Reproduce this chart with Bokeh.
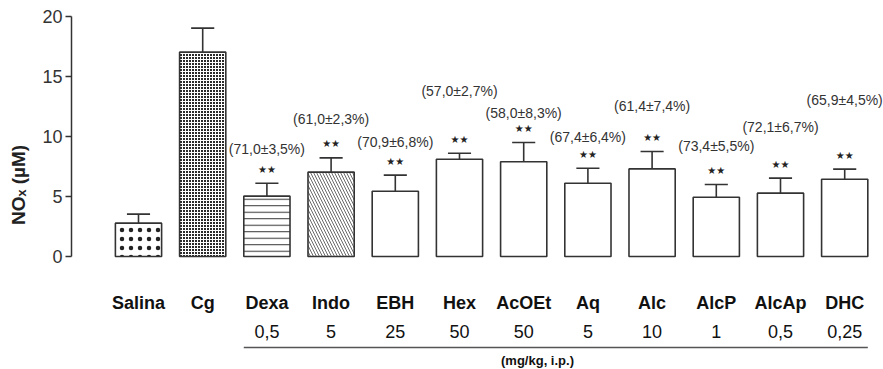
import numpy as np
from bokeh.plotting import figure
from bokeh.models import Range1d, ColumnDataSource, FixedTicker
from bokeh.core.properties import value
from bokeh.embed import file_html
from bokeh.resources import INLINE

# ---------------- data ----------------
groups = ["Salina", "Cg", "Dexa", "Indo", "EBH", "Hex", "AcOEt", "Aq", "Alc", "AlcP", "AlcAp", "DHC"]
doses = ["", "", "0,5", "5", "25", "50", "50", "5", "10", "1", "0,5", "0,25"]
nox_mean = [2.78, 17.03, 5.03, 7.03, 5.44, 8.11, 7.89, 6.11, 7.30, 4.94, 5.28, 6.44]
nox_sem = [0.75, 2.00, 1.08, 1.19, 1.34, 0.50, 1.61, 1.25, 1.45, 1.06, 1.25, 0.84]
inhibition = ["", "", "(71,0±3,5%)", "(61,0±2,3%)", "(70,9±6,8%)", "(57,0±2,7%)",
              "(58,0±8,3%)", "(67,4±6,4%)", "(61,4±7,4%)", "(73,4±5,5%)", "(72,1±6,7%)", "(65,9±4,5%)"]
inhibition_y = [0, 0, 8.92, 11.5, 9.52, 13.78, 12.0, 10.0, 12.53, 9.25, 10.78, 13.08]
signif = ["", "", "★★", "★★", "★★", "★★", "★★", "★★", "★★", "★★", "★★", "★★"]
dose_unit = "(mg/kg, i.p.)"
y_ticks = [0, 5, 10, 15, 20]

# ---------------- styles ----------------
hatch_pattern = [".", "+", "-", "\\", " ", " ", " ", " ", " ", " ", " ", " "]
hatch_scale = [9, 3, 6.5, 6, 12, 12, 12, 12, 12, 12, 12, 12]
hatch_weight = [0.6, 1, 1, 0.8, 1, 1, 1, 1, 1, 1, 1, 1]
hatch_color = ["#222222", "#ffffff", "#333333", "#444444"] + ["#333333"] * 8
fill_color = ["#ffffff", "#2a2a2a"] + ["#ffffff"] * 10

FONT = "Liberation Sans"
DARK = "#333333"
bar_w = 0.72

x = np.arange(len(groups), dtype=float)
mean = np.array(nox_mean)
tops = mean + np.array(nox_sem)

src = ColumnDataSource(dict(x=x, top=mean, hp=hatch_pattern, hs=hatch_scale,
                            hw=hatch_weight, hc=hatch_color, fc=fill_color))

W, H = 883, 369
left = 71
px_per_x = 64.2
x0 = -(138 - left) / px_per_x
px_per_y = 12.0
y_top = 20 + 16 / px_per_y
y_bot = y_top - H / px_per_y

p = figure(width=W, height=H, output_backend="svg", toolbar_location=None,
           x_range=Range1d(x0, x0 + (W - left) / px_per_x),
           y_range=Range1d(y_bot, y_top),
           x_axis_location=None, min_border_left=left, min_border_right=0,
           min_border_top=0, min_border_bottom=0)
p.outline_line_color = None
p.xgrid.visible = False
p.ygrid.visible = False
p.background_fill_color = "white"

ax = p.yaxis[0]
ax.bounds = (0, 20)
ax.ticker = FixedTicker(ticks=y_ticks)
ax.minor_tick_line_color = None
ax.major_tick_in = 0
ax.major_tick_out = 6
ax.major_tick_line_color = DARK
ax.major_tick_line_width = 1.5
ax.axis_line_color = DARK
ax.axis_line_width = 1.5
ax.major_label_text_font = FONT
ax.major_label_text_font_size = "18px"
ax.major_label_text_color = DARK
ax.major_label_standoff = 3
ax.axis_label = "NOₓ (µM)"
ax.axis_label_text_font = FONT
ax.axis_label_text_font_style = "bold"
ax.axis_label_text_font_size = "19px"
ax.axis_label_text_color = "#222222"
ax.axis_label_standoff = 10

p.vbar(x="x", top="top", bottom=0, width=bar_w, source=src,
       fill_color="fc", line_color=DARK, line_width=1.6,
       hatch_pattern="hp", hatch_scale="hs", hatch_color="hc", hatch_weight="hw")

# error bars (upper only)
p.segment(x, mean, x, tops, line_color=DARK, line_width=1.6)
p.segment(x - 0.18, tops, x + 0.18, tops, line_color=DARK, line_width=1.6)

# significance stars
p.text(x, tops, text=signif, text_font=value("DejaVu Sans"), text_font_size="10px",
       text_color="#222222", text_align="center", text_baseline="middle", y_offset=-14)

# inhibition labels
p.text(x, inhibition_y, text=inhibition, text_font=value(FONT), text_font_size="14px",
       text_color=DARK, text_align="center", text_baseline="middle")

# category names and doses below
def y_at(page_px):
    return y_top - page_px / px_per_y

p.text(x, [y_at(302)] * len(x), text=groups, text_font=value(FONT), text_font_size="18px",
       text_font_style="bold", text_color="#111111", text_align="center", text_baseline="middle")
p.text(x, [y_at(331)] * len(x), text=doses, text_font=value(FONT), text_font_size="18px",
       text_color="#111111", text_align="center", text_baseline="middle")
p.segment(x[2] - bar_w / 2, y_at(347), x[-1] + bar_w / 2, y_at(347), line_color="#555555", line_width=1.5)
p.text([x0 + (537 - left) / px_per_x], [y_at(360)], text=[dose_unit], text_font=value(FONT),
       text_font_size="13px", text_font_style="bold", text_color="#111111",
       text_align="center", text_baseline="middle")

open("out.html", "w").write(file_html(p, INLINE))
